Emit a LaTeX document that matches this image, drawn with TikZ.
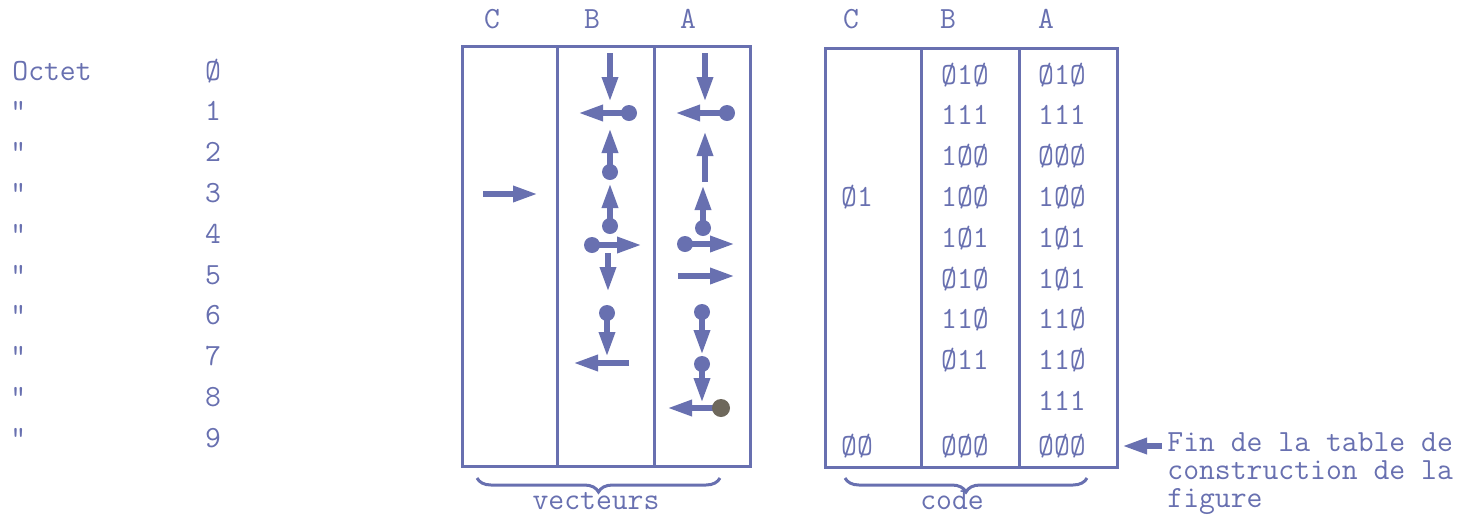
\documentclass[tikz,border=0pt]{standalone}
\usepackage{fontspec}
\usetikzlibrary{arrows.meta,decorations.pathreplacing}
\definecolor{ink}{RGB}{104,112,176}
\definecolor{smudge}{RGB}{110,104,92}
\begin{document}
\begin{tikzpicture}[x=0.5pt,y=-0.5pt,
  txt/.style={inner sep=0pt,anchor=base,text=ink,font=\ttfamily\fontsize{15.4pt}{16pt}\selectfont},
  txtl/.style={txt,anchor=base west},
  box/.style={draw=ink,line width=1.5pt},
  vecarrow/.style={draw=ink,line width=3pt,-{Triangle[length=12.5pt,width=7.5pt]}},
  dotc/.style={fill=ink},
  brc/.style={draw=ink,line width=1.5pt,decorate,decoration={brace,mirror,amplitude=7pt}}]
\useasboundingbox (0,0) rectangle (1463,516);
% left legend
\node[txtl] (octet) at (12,80) {Octet};
\node[txt] (n0) at (213,80) {Ø};
\foreach \i in {1,...,9}{
  \node[txtl] (d\i) at (10,{80+40.8*\i}) {"};
  \node[txt] (n\i) at (213,{80+40.8*\i}) {\i};
}
% column headers
\node[txt] (hvc) at (492,28) {C};
\node[txt] (hvb) at (592,28) {B};
\node[txt] (hva) at (688,28) {A};
\node[txt] (hcc) at (851,28) {C};
\node[txt] (hcb) at (948,28) {B};
\node[txt] (hca) at (1046,28) {A};
% boxes
\draw[box] (462,46) rectangle (750,466);
\draw[box] (557,46) -- (557,466);
\draw[box] (654,46) -- (654,466);
\draw[box] (825,48) rectangle (1117,467);
\draw[box] (921,48) -- (921,467);
\draw[box] (1019,48) -- (1019,467);
% vectors column C
\draw[vecarrow] (483,194) -- (538,194);
% vectors column B
\draw[vecarrow] (610,53) -- (610,102);
\fill[dotc] (629,113) circle[radius=4pt];
\draw[vecarrow] (629,113) -- (578,113);
\fill[dotc] (610,172) circle[radius=4pt];
\draw[vecarrow] (610,172) -- (610,128);
\fill[dotc] (610,226) circle[radius=4pt];
\draw[vecarrow] (610,226) -- (610,183);
\fill[dotc] (592,245) circle[radius=4pt];
\draw[vecarrow] (592,245) -- (642,245);
\draw[vecarrow] (608,253) -- (608,292);
\fill[dotc] (607,313) circle[radius=4pt];
\draw[vecarrow] (607,313) -- (607,357);
\draw[vecarrow] (629,363) -- (573,363);
% vectors column A
\draw[vecarrow] (705,53) -- (705,102);
\fill[dotc] (727,113) circle[radius=4pt];
\draw[vecarrow] (727,113) -- (675,113);
\draw[vecarrow] (705,182) -- (705,131);
\fill[dotc] (703,228) circle[radius=4pt];
\draw[vecarrow] (703,228) -- (703,185);
\fill[dotc] (685,244) circle[radius=4pt];
\draw[vecarrow] (685,244) -- (735,244);
\draw[vecarrow] (678,276) -- (735,276);
\fill[dotc] (702,312) circle[radius=4pt];
\draw[vecarrow] (702,312) -- (702,355);
\fill[dotc] (702,364) circle[radius=4pt];
\draw[vecarrow] (702,364) -- (702,403);
\draw[vecarrow] (718,408) -- (667,408);
\fill[smudge] (721,408) circle[radius=4.5pt];
% code column C
\node[txt] (cc3) at (857,206) {Ø1};
\node[txt] (cc9) at (857,455) {ØØ};
% code column B
\foreach \v [count=\i from 0] in {Ø1Ø,111,1ØØ,1ØØ,1Ø1,Ø1Ø,11Ø,Ø11}{
  \node[txt] (cb\i) at (965,{84+40.8*\i}) {\v};
}
\node[txt] (cb9) at (965,455) {ØØØ};
% code column A
\foreach \v [count=\i from 0] in {Ø1Ø,111,ØØØ,1ØØ,1Ø1,1Ø1,11Ø,11Ø,111}{
  \node[txt] (ca\i) at (1062,{84+40.8*\i}) {\v};
}
\node[txt] (ca9) at (1062,455) {ØØØ};
% braces
\draw[brc] (477,478) -- (720,478);
\node[txt] (vlab) at (596,509) {vecteurs};
\draw[brc] (845,478) -- (1087,478);
\node[txt] (clab) at (952,509) {code};
% end note
\node[txtl] (fin1) at (1167,451) {Fin de la table de};
\node[txtl] (fin2) at (1167,479) {construction de la};
\node[txtl] (fin3) at (1167,507) {figure};
\coordinate (fa) at (1162,446);
\draw[vecarrow] (fa) -- (1122,446);
\end{tikzpicture}
\end{document}
